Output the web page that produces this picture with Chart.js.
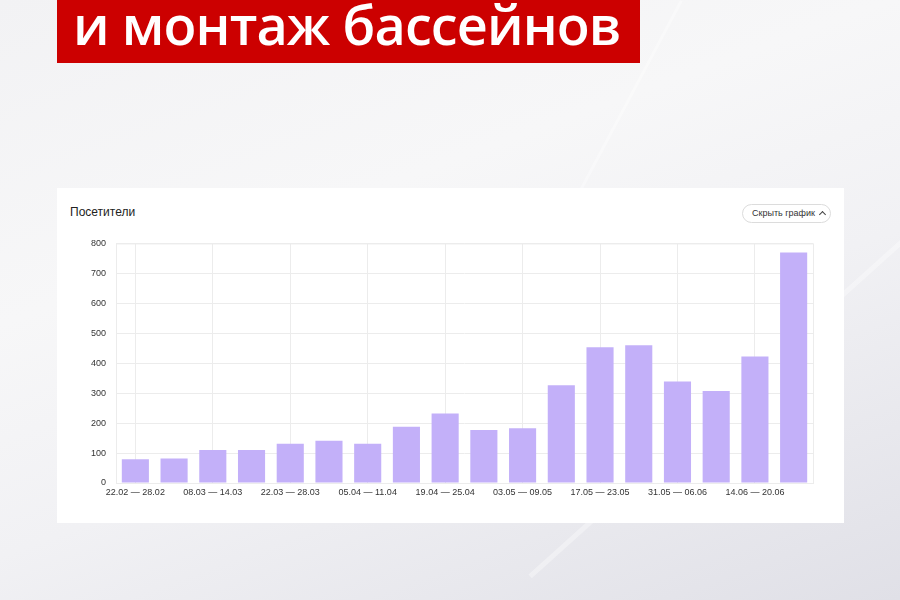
<!DOCTYPE html>
<html lang="ru">
<head>
<meta charset="utf-8">
<script src="https://cdn.jsdelivr.net/npm/chart.js@4"></script>
<style>
  html, body { margin: 0; padding: 0; }
  body {
    width: 900px; height: 600px; position: relative; overflow: hidden;
    background: linear-gradient(160deg, #f2f2f4 0%, #f7f7f8 35%, #f1f1f4 60%, #e0e0e7 100%);
    font-family: "Noto Sans", Arial, sans-serif;
  }
  .streak { position: absolute; background: rgba(255,255,255,0.35); transform-origin: 0 0; }
  .banner {
    position: absolute; left: 57px; top: 0; width: 583px; height: 63px;
    background: #cc0000; color: #fff; overflow: hidden;
  }
  .banner span {
    position: absolute; left: 16px; top: -13px; font-size: 54px; font-weight: 600;
    letter-spacing: -0.9px;
    font-family: "Open Sans", "Noto Sans", sans-serif; white-space: nowrap;
  }
  .card {
    position: absolute; left: 57px; top: 188px; width: 787px; height: 335px;
    background: #fff;
  }
  .card h3 {
    position: absolute; left: 13px; top: 17px; margin: 0;
    font: 12px Arial, "Liberation Sans", sans-serif; color: #222; font-weight: normal;
  }
  .btn {
    position: absolute; left: 685px; top: 16px; width: 89px; height: 19px;
    border: 1px solid #dcdcdc; border-radius: 10px; box-sizing: border-box;
    font: 9px Arial, "Liberation Sans", sans-serif; color: #333;
    line-height: 17px; padding-left: 9px;
  }
  .btn i {
    position: absolute; left: 77px; top: 7px; width: 4px; height: 4px;
    border-left: 1px solid #444; border-top: 1px solid #444; transform: rotate(45deg);
  }
  .wrap { position: absolute; left: 0; top: 40px; width: 787px; height: 280px; }
</style>
</head>
<body>
<div class="streak" style="left:680px;top:0;width:3px;height:400px;transform:rotate(28deg);"></div>
<div class="streak" style="left:900px;top:240px;width:5px;height:500px;transform:rotate(48deg);"></div>
<div class="banner"><span>и монтаж бассейнов</span></div>
<div class="card">
  <h3>Посетители</h3>
  <div class="btn">Скрыть график<i></i></div>
  <div class="wrap"><canvas id="c"></canvas></div>
</div>
<script>
const weeks = [
  '22.02 — 28.02', '01.03 — 07.03', '08.03 — 14.03', '15.03 — 21.03',
  '22.03 — 28.03', '29.03 — 04.04', '05.04 — 11.04', '12.04 — 18.04',
  '19.04 — 25.04', '26.04 — 02.05', '03.05 — 09.05', '10.05 — 16.05',
  '17.05 — 23.05', '24.05 — 30.05', '31.05 — 06.06', '07.06 — 13.06',
  '14.06 — 20.06', '21.06 — 27.06'
];
const visitors = [79, 82, 110, 110, 131, 141, 131, 188, 232, 177, 183, 326, 453, 460, 339, 307, 422, 770];
const yTicks = [0, 100, 200, 300, 400, 500, 600, 700, 800];

// рамка области графика
const frame = {
  id: 'frame',
  beforeDatasetsDraw(chart) {
    const a = chart.chartArea, ctx = chart.ctx;
    ctx.save();
    ctx.strokeStyle = '#ececec';
    ctx.lineWidth = 1;
    ctx.strokeRect(a.left + 0.5, a.top + 0.5, a.right - a.left, a.bottom - a.top);
    ctx.restore();
  }
};

Chart.defaults.font.family = 'Arial, "Liberation Sans", sans-serif';

new Chart(document.getElementById('c'), {
  type: 'bar',
  data: {
    labels: weeks,
    datasets: [{
      label: 'Посетители',
      data: visitors,
      backgroundColor: '#c3b0f9',
      barPercentage: 0.7,
      categoryPercentage: 1
    }]
  },
  options: {
    responsive: true,
    maintainAspectRatio: false,
    animation: false,
    layout: { padding: { left: 0, right: 31, top: 15, bottom: 5 } },
    plugins: { legend: { display: false }, tooltip: { enabled: false } },
    scales: {
      x: {
        offset: true,
        grid: {
          offset: false,
          color: ctx => (ctx.index % 2 === 0 ? '#ececec' : 'rgba(0,0,0,0)'),
          drawTicks: false
        },
        border: { display: false },
        ticks: {
          autoSkip: false, maxRotation: 0, padding: 4,
          color: '#333', font: { size: 9 },
          callback: (v, i) => (i % 2 === 0 ? weeks[i] : '')
        },
        afterFit: s => { s.height = 20; }
      },
      y: {
        min: 0, max: 800,
        afterBuildTicks: s => { s.ticks = yTicks.map(v => ({ value: v })); },
        grid: { color: '#ececec', drawTicks: false },
        border: { display: false },
        ticks: { color: '#333', font: { size: 9 }, padding: 10 },
        afterFit: s => { s.width = 59; }
      }
    }
  },
  plugins: [frame]
});
</script>
</body>
</html>
